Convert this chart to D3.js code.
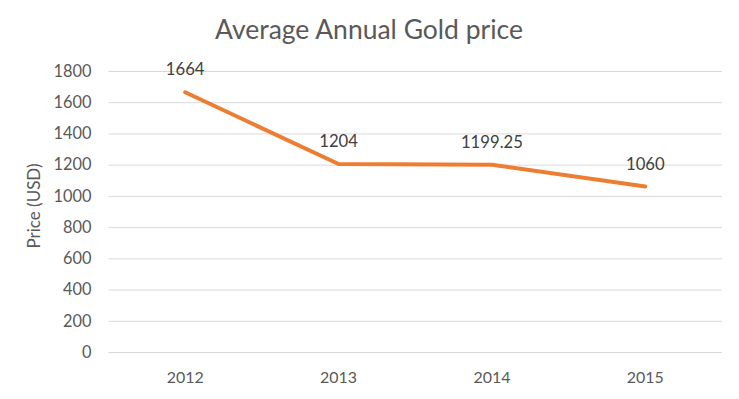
<!DOCTYPE html>
<html><head><meta charset="utf-8">
<script src="https://cdn.jsdelivr.net/npm/d3@7"></script>
<style>body{margin:0;background:#fff;} svg{display:block;}</style>
</head><body>
<script>
const years = ["2012","2013","2014","2015"];
const prices = [1664, 1204, 1199.25, 1060];
const labels = ["1664","1204","1199.25","1060"];
const yTicks = [0,200,400,600,800,1000,1200,1400,1600,1800];

const W = 739, H = 399;
const m = {left:108.5, right:17, top:71, bottom:47};
const font = "Lato, 'Open Sans', sans-serif";
const svg = d3.select("body").append("svg").attr("width",W).attr("height",H);

function fitSize(sample, target) {
  const t = svg.append("text").style("font-family",font).style("font-size","20px").text(sample);
  const w = t.node().getComputedTextLength();
  t.remove();
  return 20 * target / w;
}
const tickFs = fitSize("1800", 38);
const yearFs = fitSize("2012", 37);
const lblFs = fitSize("1199.25", 62);
const titleFs = fitSize("Average Annual Gold price", 308);
const axisTitleFs = fitSize("Price (USD)", 85);

const x = d3.scaleBand().domain(years).range([m.left, W-m.right]);
const y = d3.scaleLinear().domain([0,1800]).range([H-m.bottom, m.top]);

svg.append("g").attr("transform",`translate(${m.left},0)`)
  .call(d3.axisLeft(y).tickValues(yTicks).tickSize(-(W-m.right-m.left)).tickFormat(d=>d).tickPadding(17))
  .call(g=>g.select(".domain").remove())
  .call(g=>g.selectAll(".tick line").attr("stroke","#d9d9d9").attr("stroke-width",1))
  .call(g=>g.selectAll(".tick text").attr("fill","#595959").style("font-family",font).style("font-size",tickFs+"px"));

svg.append("g").attr("transform",`translate(0,${H-m.bottom})`)
  .call(d3.axisBottom(x).tickSize(0).tickPadding(0))
  .call(g=>g.select(".domain").remove())
  .call(g=>g.selectAll(".tick text").attr("dy",null).attr("y",31).attr("fill","#595959").style("font-family",font).style("font-size",yearFs+"px"));

const cx = d => x(d) + x.bandwidth()/2;
svg.append("path").datum(prices)
  .attr("fill","none").attr("stroke","#ed7d31").attr("stroke-width",4)
  .attr("stroke-linecap","round").attr("stroke-linejoin","round")
  .attr("d", d3.line().x((d,i)=>cx(years[i])).y(d=>y(d)));

svg.append("g").selectAll("text").data(prices).join("text")
  .attr("x",(d,i)=>cx(years[i])).attr("y",d=>y(d)-17)
  .attr("text-anchor","middle").attr("fill","#404040")
  .style("font-family",font).style("font-size",lblFs+"px")
  .text((d,i)=>labels[i]);

svg.append("text").attr("x",369).attr("y",39).attr("text-anchor","middle")
  .attr("fill","#595959").style("font-family",font).style("font-size",titleFs+"px")
  .text("Average Annual Gold price");

svg.append("text").attr("transform",`translate(40,206) rotate(-90)`)
  .attr("text-anchor","middle").attr("fill","#595959")
  .style("font-family",font).style("font-size",axisTitleFs+"px")
  .text("Price (USD)");
</script>
</body></html>
